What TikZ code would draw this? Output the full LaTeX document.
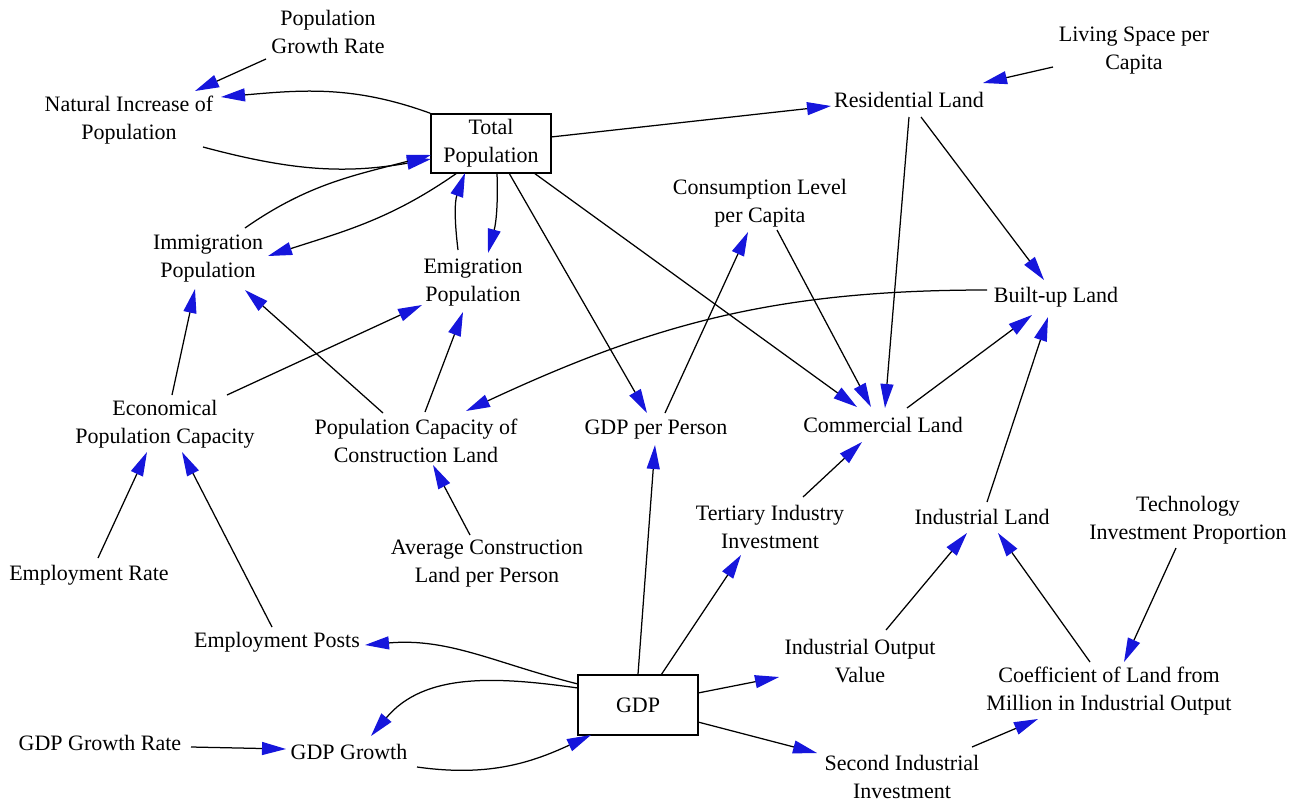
\documentclass[tikz,border=0pt]{standalone}
\usepackage{fontspec}
\setmainfont{Liberation Serif}
\usetikzlibrary{arrows.meta,calc}
\definecolor{headblue}{RGB}{22,22,220}
\begin{document}
\begin{tikzpicture}[x=1pt,y=1pt,
  lbl/.style={align=center,font=\fontsize{22}{28}\selectfont,inner sep=1pt},
  stock/.style={draw,line width=1.5pt,align=center,font=\fontsize{22}{28}\selectfont,inner sep=0pt},
  link/.style={line width=1.25pt,-{Triangle[length=24pt,width=13pt,color=headblue]}}]
\fill[white] (0,0) rectangle (1306,-804);
\useasboundingbox (0,0) rectangle (1306,-804);
% nodes
\node[lbl] (pgr) at (328,-32) {Population\\Growth Rate};
\node[lbl] (nip) at (129,-120) {Natural Increase of\\Population};
\node[stock,minimum width=120pt,minimum height=59pt] (tp) at (491,-143.5) {Total\\Population};
\node[lbl] (res) at (909,-100) {Residential Land};
\node[lbl] (lsp) at (1134,-51) {Living Space per\\Capita};
\node[lbl] (clc) at (760,-203) {Consumption Level\\per Capita};
\node[lbl] (imm) at (208,-259) {Immigration\\Population};
\node[lbl] (emi) at (473,-283) {Emigration\\Population};
\node[lbl] (bul) at (1056,-297) {Built-up Land};
\node[lbl] (eco) at (165,-424) {Economical\\Population Capacity};
\node[lbl] (pcc) at (416,-441) {Population Capacity of\\Construction Land};
\node[lbl] (gpp) at (656,-430) {GDP per Person};
\node[lbl] (com) at (883,-425) {Commercial Land};
\node[lbl] (tii) at (770,-527) {Tertiary Industry\\Investment};
\node[lbl] (ind) at (982,-517) {Industrial Land};
\node[lbl] (tip) at (1188,-520) {Technology\\Investment Proportion};
\node[lbl] (acl) at (487,-564) {Average Construction\\Land per Person};
\node[lbl] (emr) at (89,-575) {Employment Rate};
\node[lbl] (emp) at (277,-642) {Employment Posts};
\node[stock,minimum width=120pt,minimum height=60pt] (gdp) at (638,-705) {GDP};
\node[lbl] (iov) at (860,-661) {Industrial Output\\Value};
\node[lbl] (coe) at (1109,-691) {Coefficient of Land from\\Million in Industrial Output};
\node[lbl] (ggr) at (100,-743) {GDP Growth Rate};
\node[lbl] (ggw) at (349,-752) {GDP Growth};
\node[lbl] (sii) at (902,-777) {Second Industrial\\Investment};
% connectors
\draw[link] ($(pgr)+(-62,-27)$) -- ($(nip)+(66,29)$);
\draw[link] (tp.north west) to[out=160,in=5] ($(nip)+(92,23)$);
\draw[link] ($(nip)+(74,-27)$) to[out=-15,in=190] ($(tp)+(-60,-15.5)$);
\draw[link] ($(imm)+(37,31)$) to[out=35,in=195] ($(tp)+(-60,-11.5)$);
\draw[link] ($(tp)+(-34,-29.5)$) to[out=-145,in=18] ($(imm)+(60,3)$);
\draw[link] ($(emi)+(-15,33)$) to[out=97,in=-110] ($(tp)+(-26,-29.5)$);
\draw[link] ($(tp)+(6,-29.5)$) to[out=-88,in=75] ($(emi)+(15,30)$);
\draw[link] ($(tp)+(60,6.5)$) -- ($(res)+(-78,-6)$);
\draw[link] ($(lsp)+(-81,-16)$) -- ($(res)+(74,17)$);
\draw[link] ($(res)+(0,-17)$) -- ($(com)+(2,17)$);
\draw[link] ($(res)+(12,-17)$) -- ($(bul)+(-12,17)$);
\draw[link] ($(tp)+(18,-29.5)$) -- ($(gpp)+(-9,17)$);
\draw[link] ($(tp)+(43,-29.5)$) -- ($(com)+(-26,18)$);
\draw[link] ($(gpp)+(9,17)$) -- ($(clc)+(-12,-29)$);
\draw[link] ($(clc)+(17,-27)$) -- ($(com)+(-12,18)$);
\draw[link] ($(com)+(24,17)$) -- ($(bul)+(-24,-18)$);
\draw[link] ($(bul)+(-69,7)$) to[out=180,in=25] ($(pcc)+(50,30)$);
\draw[link] ($(ind)+(5,15)$) -- ($(bul)+(-8,-20)$);
\draw[link] ($(eco)+(7,29)$) -- ($(imm)+(-13,-30)$);
\draw[link] ($(eco)+(62,29)$) -- ($(emi)+(-51,-22)$);
\draw[link] ($(pcc)+(-33,28)$) -- ($(imm)+(37,-31)$);
\draw[link] ($(pcc)+(9,29)$) -- ($(emi)+(-10,-29)$);
\draw[link] ($(emr)+(9,17)$) -- ($(eco)+(-18,-28)$);
\draw[link] ($(emp)+(-5,15)$) -- ($(eco)+(17,-28)$);
\draw[link] ($(acl)+(-17,29)$) -- ($(pcc)+(17,-24)$);
\draw[link] (gdp.north) -- ($(gpp)+(-1,-15)$);
\draw[link] ($(gdp)+(23,30)$) -- ($(tii)+(-29,-28)$);
\draw[link] ($(tii)+(33,30)$) -- ($(com)+(-21,-17)$);
\draw[link] ($(iov)+(26,31)$) -- ($(ind)+(-15,-16)$);
\draw[link] ($(coe)+(-19,29)$) -- ($(ind)+(16,-16)$);
\draw[link] ($(tip)+(-12,-28)$) -- ($(coe)+(15,29)$);
\draw[link] ($(gdp)+(-60,21)$) to[out=166,in=5] ($(emp)+(88,-3)$);
\draw[link] ($(gdp)+(-60,17)$) to[out=172,in=50] ($(ggw)+(22,16)$);
\draw[link] ($(ggr)+(91,-4)$) -- ($(ggw)+(-63,3)$);
\draw[link] ($(ggw)+(68,-15)$) to[out=-8,in=-155] ($(gdp)+(-47,-30)$);
\draw[link] ($(gdp)+(60,12)$) -- ($(iov)+(-81,-16)$);
\draw[link] ($(gdp)+(60,-17)$) -- ($(sii)+(-85,24)$);
\draw[link] ($(sii)+(70,30)$) -- ($(coe)+(-71,-28)$);
\end{tikzpicture}
\end{document}
